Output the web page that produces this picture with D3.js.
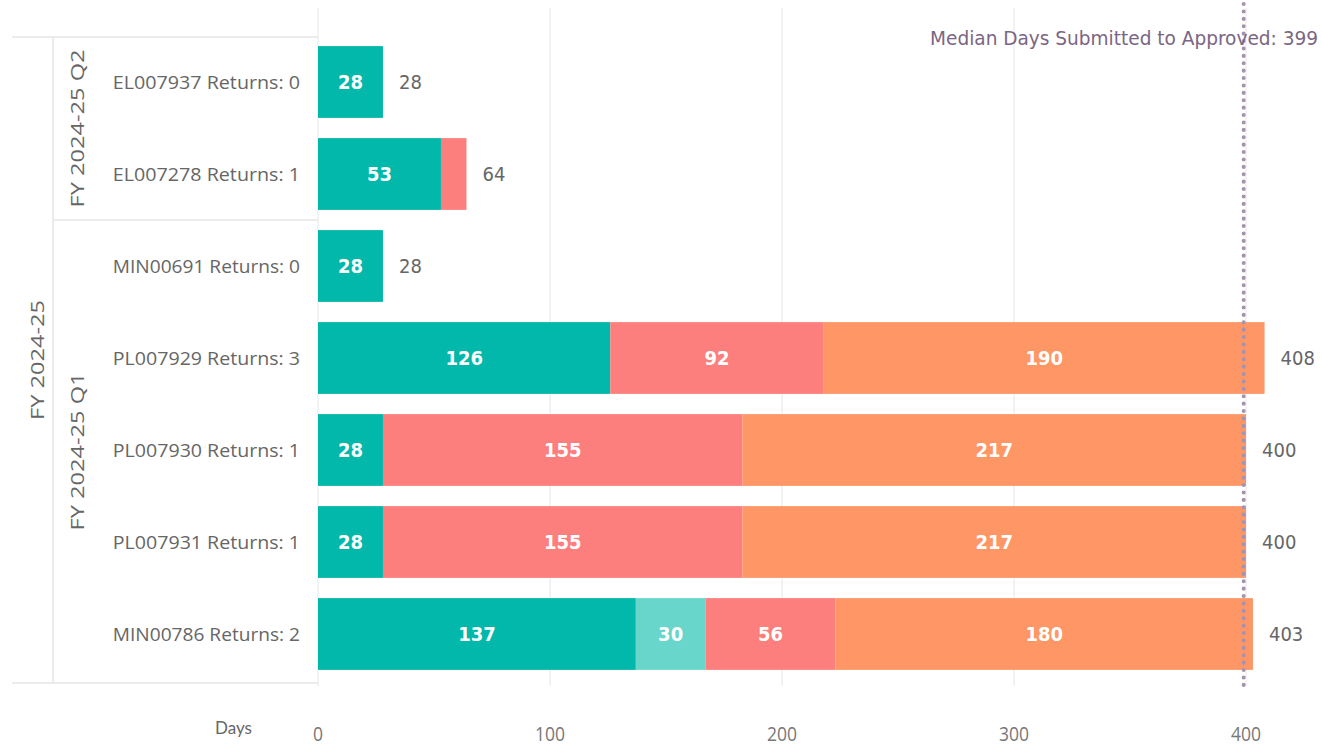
<!DOCTYPE html>
<html>
<head>
<meta charset="utf-8">
<script src="https://cdn.jsdelivr.net/npm/d3@7"></script>
<style>
  body { margin: 0; background: #fff; }
  svg { display: block; }
</style>
</head>
<body>
<script>
const width = 1322;
const height = 747;

// data
const projects = ['EL007937 Returns: 0', 'EL007278 Returns: 1', 'MIN00691 Returns: 0',
  'PL007929 Returns: 3', 'PL007930 Returns: 1', 'PL007931 Returns: 1', 'MIN00786 Returns: 2'];
const quarters = ['FY 2024-25 Q2', 'FY 2024-25 Q2', 'FY 2024-25 Q1', 'FY 2024-25 Q1',
  'FY 2024-25 Q1', 'FY 2024-25 Q1', 'FY 2024-25 Q1'];
const years = ['FY 2024-25', 'FY 2024-25', 'FY 2024-25', 'FY 2024-25', 'FY 2024-25', 'FY 2024-25', 'FY 2024-25'];
const stage1 = [28, 53, 28, 126, 28, 28, 137];
const stage2 = [0, 0, 0, 0, 0, 0, 30];
const stage3 = [0, 11, 0, 92, 155, 155, 56];
const stage4 = [0, 0, 0, 190, 217, 217, 180];
const xTicks = [0, 100, 200, 300, 400];
const medianDays = 399;

const seriesKeys = ['s1', 's2', 's3', 's4'];
const seriesColors = ['#01B8AA', '#68D6CA', '#FD7F7D', '#FE9666'];

const rows = projects.map((p, i) => ({
  project: p, quarter: quarters[i], year: years[i],
  s1: stage1[i], s2: stage2[i], s3: stage3[i], s4: stage4[i],
  total: stage1[i] + stage2[i] + stage3[i] + stage4[i]
}));

const svg = d3.select('body').append('svg')
  .attr('width', width)
  .attr('height', height);

const x = d3.scaleLinear().domain([0, 400]).range([318, 1246]);
const y = d3.scaleBand().domain(projects).range([36, 680]).paddingInner(0.22).paddingOuter(0.11);

const labelFont = "'DejaVu Sans Condensed', 'DejaVu Sans', sans-serif";
const catFont = "'Open Sans', 'Noto Sans', sans-serif";

// gridlines
svg.append('g').selectAll('line')
  .data(xTicks)
  .join('line')
  .attr('x1', d => x(d)).attr('x2', d => x(d))
  .attr('y1', 8).attr('y2', 686)
  .attr('stroke', '#e6e6e6')
  .attr('stroke-width', 1);

// x tick labels
svg.append('g').selectAll('text')
  .data(xTicks)
  .join('text')
  .attr('x', d => x(d))
  .attr('y', 741)
  .attr('text-anchor', 'middle')
  .attr('font-family', catFont)
  .attr('font-size', 20)
  .attr('fill', '#777')
  .attr('textLength', d => String(d).length * 10)
  .attr('lengthAdjust', 'spacingAndGlyphs')
  .text(d => d);

svg.append('text')
  .attr('x', 215).attr('y', 734)
  .attr('font-family', "'Lato', 'Noto Sans', sans-serif")
  .attr('font-size', 17)
  .attr('fill', '#666')
  .text('Days');

// hierarchy frame
const frame = svg.append('g').attr('stroke', '#e6e6e6').attr('stroke-width', 1.5);
frame.append('line').attr('x1', 12).attr('x2', 318).attr('y1', 37).attr('y2', 37);
frame.append('line').attr('x1', 12).attr('x2', 318).attr('y1', 683).attr('y2', 683);
frame.append('line').attr('x1', 53).attr('x2', 53).attr('y1', 37).attr('y2', 683);

const step = y.step();
const quarterGroups = d3.groups(rows, d => d.quarter).map(([q, r]) => ({
  q,
  y0: y(r[0].project) - (step - y.bandwidth()) / 2,
  y1: y(r[r.length - 1].project) + y.bandwidth() + (step - y.bandwidth()) / 2
}));
quarterGroups[0].y0 = 37;
quarterGroups[quarterGroups.length - 1].y1 = 683;

frame.selectAll('line.sep')
  .data(quarterGroups.slice(1))
  .join('line')
  .attr('class', 'sep')
  .attr('x1', 53).attr('x2', 318)
  .attr('y1', d => d.y0).attr('y2', d => d.y0);

svg.append('g').selectAll('text')
  .data(quarterGroups)
  .join('text')
  .attr('transform', d => `translate(84,${(d.y0 + d.y1) / 2}) rotate(-90)`)
  .attr('text-anchor', 'middle')
  .attr('font-family', catFont)
  .attr('font-size', 19)
  .attr('fill', '#666')
  .attr('textLength', 158)
  .attr('lengthAdjust', 'spacingAndGlyphs')
  .text(d => d.q);

svg.append('text')
  .attr('transform', `translate(44,360) rotate(-90)`)
  .attr('text-anchor', 'middle')
  .attr('font-family', catFont)
  .attr('font-size', 19)
  .attr('fill', '#666')
  .attr('textLength', 120)
  .attr('lengthAdjust', 'spacingAndGlyphs')
  .text(years[0]);

// category labels
svg.append('g').selectAll('text')
  .data(rows)
  .join('text')
  .attr('x', 300)
  .attr('y', d => y(d.project) + y.bandwidth() / 2)
  .attr('dy', '0.35em')
  .attr('text-anchor', 'end')
  .attr('font-family', catFont)
  .attr('font-size', 19)
  .attr('fill', '#666')
  .attr('textLength', d => d.project.length * 9.85)
  .attr('lengthAdjust', 'spacingAndGlyphs')
  .text(d => d.project);

// stacked bars
const stacked = d3.stack().keys(seriesKeys)(rows);
const layers = svg.append('g').selectAll('g')
  .data(stacked)
  .join('g')
  .attr('fill', (d, i) => seriesColors[i]);

layers.selectAll('rect')
  .data(d => d.filter(s => s[1] > s[0]))
  .join('rect')
  .attr('x', d => x(d[0]))
  .attr('y', d => y(d.data.project))
  .attr('width', d => x(d[1]) - x(d[0]))
  .attr('height', y.bandwidth());

layers.selectAll('text')
  .data(d => d.filter(s => s[1] - s[0] >= 20))
  .join('text')
  .attr('x', d => (x(d[0]) + x(d[1])) / 2)
  .attr('y', d => y(d.data.project) + y.bandwidth() / 2)
  .attr('dy', '0.36em')
  .attr('text-anchor', 'middle')
  .attr('font-family', labelFont)
  .attr('font-weight', 'bold')
  .attr('font-size', 20)
  .attr('fill', '#fff')
  .text(d => d[1] - d[0]);

// totals
svg.append('g').selectAll('text')
  .data(rows)
  .join('text')
  .attr('x', d => x(d.total) + 16)
  .attr('y', d => y(d.project) + y.bandwidth() / 2)
  .attr('dy', '0.36em')
  .attr('font-family', labelFont)
  .attr('font-size', 20)
  .attr('fill', '#666')
  .text(d => d.total);

// median line
svg.append('line')
  .attr('x1', x(medianDays)).attr('x2', x(medianDays))
  .attr('y1', 4).attr('y2', 692)
  .attr('stroke', '#a493b0')
  .attr('stroke-width', 4)
  .attr('stroke-linecap', 'round')
  .attr('stroke-dasharray', '0.1,7.3');

svg.append('text')
  .attr('x', 1318).attr('y', 45)
  .attr('text-anchor', 'end')
  .attr('font-family', labelFont)
  .attr('font-size', 20)
  .attr('fill', '#7a6684')
  .attr('textLength', 388)
  .attr('lengthAdjust', 'spacingAndGlyphs')
  .text(`Median Days Submitted to Approved: ${medianDays}`);
</script>
</body>
</html>
